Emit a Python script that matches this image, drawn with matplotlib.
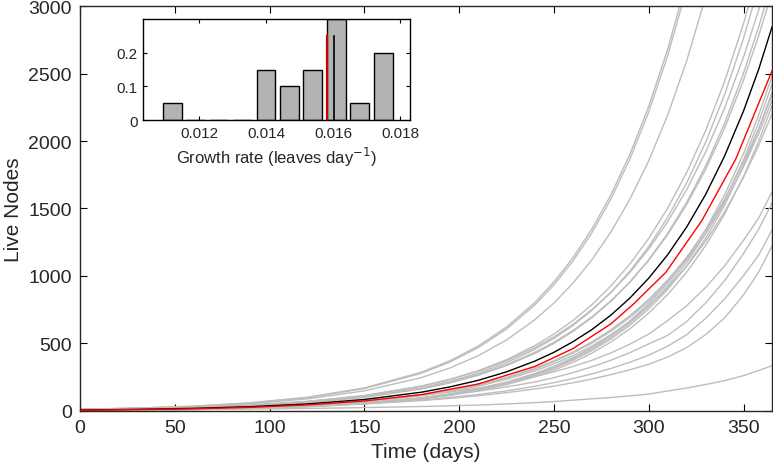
import matplotlib
matplotlib.use("Agg")
import matplotlib.pyplot as plt
from matplotlib import font_manager

# ---------------- data ----------------
t_grid = [0, 30, 60, 90, 120, 150, 180, 195, 210, 225, 240, 250, 260, 270, 280, 290,
          300, 310, 320, 330, 340, 350, 358, 365]

gray_runs = [
    [13, 22, 36, 61, 102, 171, 287, 371, 481, 622, 805, 956, 1135, 1348, 1600, 1901, 2257, 2681, 3185, 3781, 4494, 5331, 6118, 6900],
    [12.5, 21, 35, 59, 99, 166, 279, 362, 469, 607, 787, 935, 1111, 1320, 1570, 1865, 2216, 2634, 3130, 3720, 4420, 5254, 6031, 6810],
    [12, 20, 33, 54, 90, 149, 247, 318, 409, 526, 677, 800, 947, 1120, 1325, 1567, 1854, 2193, 2594, 3068, 3630, 4294, 4912, 5520],
    [10, 16, 26, 43, 70, 113, 184, 234, 298, 380, 485, 570, 670, 787, 926, 1088, 1279, 1503, 1766, 2077, 2441, 2870, 3267, 3660],
    [9, 15, 24, 39, 64, 105, 171, 219, 280, 358, 457, 538, 633, 746, 878, 1035, 1218, 1435, 1690, 1990, 2344, 2761, 3147, 3530],
    [11, 18, 28, 45, 72, 115, 184, 233, 294, 372, 470, 549, 642, 751, 878, 1026, 1200, 1403, 1640, 1918, 2244, 2622, 2972, 3316],
    [9, 15, 24, 38, 62, 100, 163, 207, 264, 336, 427, 501, 589, 691, 812, 954, 1120, 1316, 1545, 1815, 2131, 2503, 2846, 3186],
    [10, 16, 26, 41, 66, 106, 169, 214, 271, 343, 435, 509, 596, 697, 816, 955, 1117, 1307, 1530, 1790, 2095, 2452, 2781, 3100],
    [6, 8, 12, 20.2, 34.1, 57.6, 97.4, 127, 165, 214, 278, 331, 395, 470, 560, 667, 795, 947, 1128, 1344, 1601, 1907, 2194, 2480],
    [6, 8, 11.6, 19.7, 33.2, 56.2, 95, 124, 161, 209, 272, 323, 385, 459, 547, 651, 776, 924, 1101, 1312, 1562, 1861, 2141, 2420],
    [6, 8, 11.3, 19.2, 32.4, 54.8, 92.7, 121, 157, 204, 265, 315, 376, 448, 533, 635, 757, 901, 1074, 1279, 1524, 1815, 2088, 2360],
    [6, 7.5, 10.9, 18.4, 31.1, 52.5, 88.7, 115, 150, 195, 254, 302, 360, 429, 511, 608, 725, 863, 1028, 1225, 1459, 1738, 1999, 2260],
    [6.7, 10.8, 17.5, 28.2, 45.6, 73.7, 119, 152, 193, 245, 311, 365, 429, 503, 590, 693, 813, 954, 1120, 1314, 1542, 1809, 2056, 2300],
    [6.4, 10.3, 16.7, 27, 43.6, 70.5, 114, 145, 184, 234, 298, 349, 410, 481, 565, 663, 778, 913, 1071, 1257, 1475, 1731, 1967, 2200],
    [6.8, 11, 17.8, 28.7, 46.4, 75, 121, 154, 196, 249, 317, 372, 436, 512, 601, 705, 827, 971, 1139, 1337, 1569, 1841, 2092, 2340],
    [8, 13, 20, 32, 50, 77, 115, 140, 170, 208, 255, 290, 330, 375, 430, 495, 570, 670, 780, 915, 1075, 1265, 1430, 1622],
    [8, 12, 18, 28, 43, 65, 98, 120, 147, 178, 215, 247, 284, 327, 376, 432, 497, 560, 663, 800, 966, 1166, 1347, 1540],
    [7, 11, 17, 25, 37, 55, 82, 100, 122, 149, 183, 210, 240, 275, 315, 361, 414, 480, 565, 686, 830, 1003, 1155, 1340],
    [8, 12, 17, 25, 36, 52.6, 77, 93, 113, 136, 163, 184, 209, 237, 269, 305, 346, 400, 470, 565, 690, 860, 1030, 1222],
    [5, 7, 10, 14, 19, 25, 33, 38, 44, 52, 62, 70, 80, 90, 100, 112, 125, 148, 170, 196, 225, 262, 300, 335],
]

black_vals = [7.4, 12.1, 19.7, 32.1, 52.3, 85.3, 139, 178, 227, 290, 370, 435, 513, 603, 710,
              836, 984, 1158, 1363, 1604, 1889, 2223, 2532, 2844]

red_t = [0, 30, 60, 90, 120, 150, 180, 210, 240, 260, 280, 292, 309, 328, 346, 365]
red_vals = [6, 10, 16, 27, 45, 74, 121, 200, 330, 462, 645, 793, 1027, 1410, 1870, 2519]

# inset histogram
bin_centers = [0.0112, 0.0119, 0.0126, 0.0133, 0.0140, 0.0147, 0.0154, 0.0161, 0.0168, 0.0175]
bin_freq = [0.05, 0.0, 0.0, 0.0, 0.15, 0.10, 0.15, 0.30, 0.05, 0.20]
red_rate = 0.01581
black_rate = 0.01604
marker_height = 0.25

# ---------------- fonts ----------------
avail = {f.name for f in font_manager.fontManager.ttflist}
fam = "Liberation Sans Narrow" if "Liberation Sans Narrow" in avail else "Liberation Sans"
plt.rcParams["font.family"] = [fam, "DejaVu Sans"]
inset_fam = ["Liberation Sans", "DejaVu Sans"]

fig = plt.figure(figsize=(7.73, 4.77), dpi=100)
ax = fig.add_axes([0.1035, 0.1363, 0.8952, 0.849])

gray = "#bdbdbd"
for run in gray_runs:
    ax.plot(t_grid, run, color=gray, lw=1.0, zorder=2)
ax.plot(t_grid, black_vals, color="black", lw=1.0, zorder=4)
ax.plot(red_t, red_vals, color="#ff0000", lw=1.0, zorder=5)

ax.set_xlim(0, 365)
ax.set_ylim(0, 3000)
ax.set_xticks(range(0, 351, 50))
ax.set_yticks(range(0, 3001, 500))
ax.tick_params(direction="in", top=True, right=True, length=5, width=0.8,
               labelsize=14, colors="black", labelcolor="#262626", pad=6)
for s in ax.spines.values():
    s.set_linewidth(1.0)
    s.set_color("#262626")
ax.set_xlabel("Time (days)", fontsize=15, color="#262626", labelpad=4)
ax.set_ylabel("Live Nodes", fontsize=15, color="#262626", labelpad=4)

# ---------------- inset ----------------
ins = fig.add_axes([0.185, 0.7463, 0.3454, 0.2117])
ins.bar(bin_centers, bin_freq, width=0.00056, color="#b3b3b3", edgecolor="black",
        linewidth=1.0, zorder=2)
ins.plot([red_rate, red_rate], [0, marker_height], color="#cc0000", lw=1.6, zorder=3)
ins.plot([black_rate, black_rate], [0, marker_height], color="black", lw=1.2, zorder=3)
ins.set_xlim(0.01033, 0.0183)
ins.set_ylim(0, 0.3)
ins.set_xticks([0.012, 0.014, 0.016, 0.018])
ins.set_xticklabels(["0.012", "0.014", "0.016", "0.018"], family=inset_fam)
ins.set_yticks([0, 0.1, 0.2])
ins.set_yticklabels(["0", "0.1", "0.2"], family=inset_fam)
ins.tick_params(direction="in", top=True, right=True, length=3, width=0.8,
                labelsize=11, labelcolor="#262626", pad=4)
for s in ins.spines.values():
    s.set_linewidth(1.0)
ins.set_xlabel("Growth rate (leaves day$^{-1}$)", fontsize=12, color="#262626",
               family=inset_fam, labelpad=4)

fig.savefig("out.png", dpi=100)
